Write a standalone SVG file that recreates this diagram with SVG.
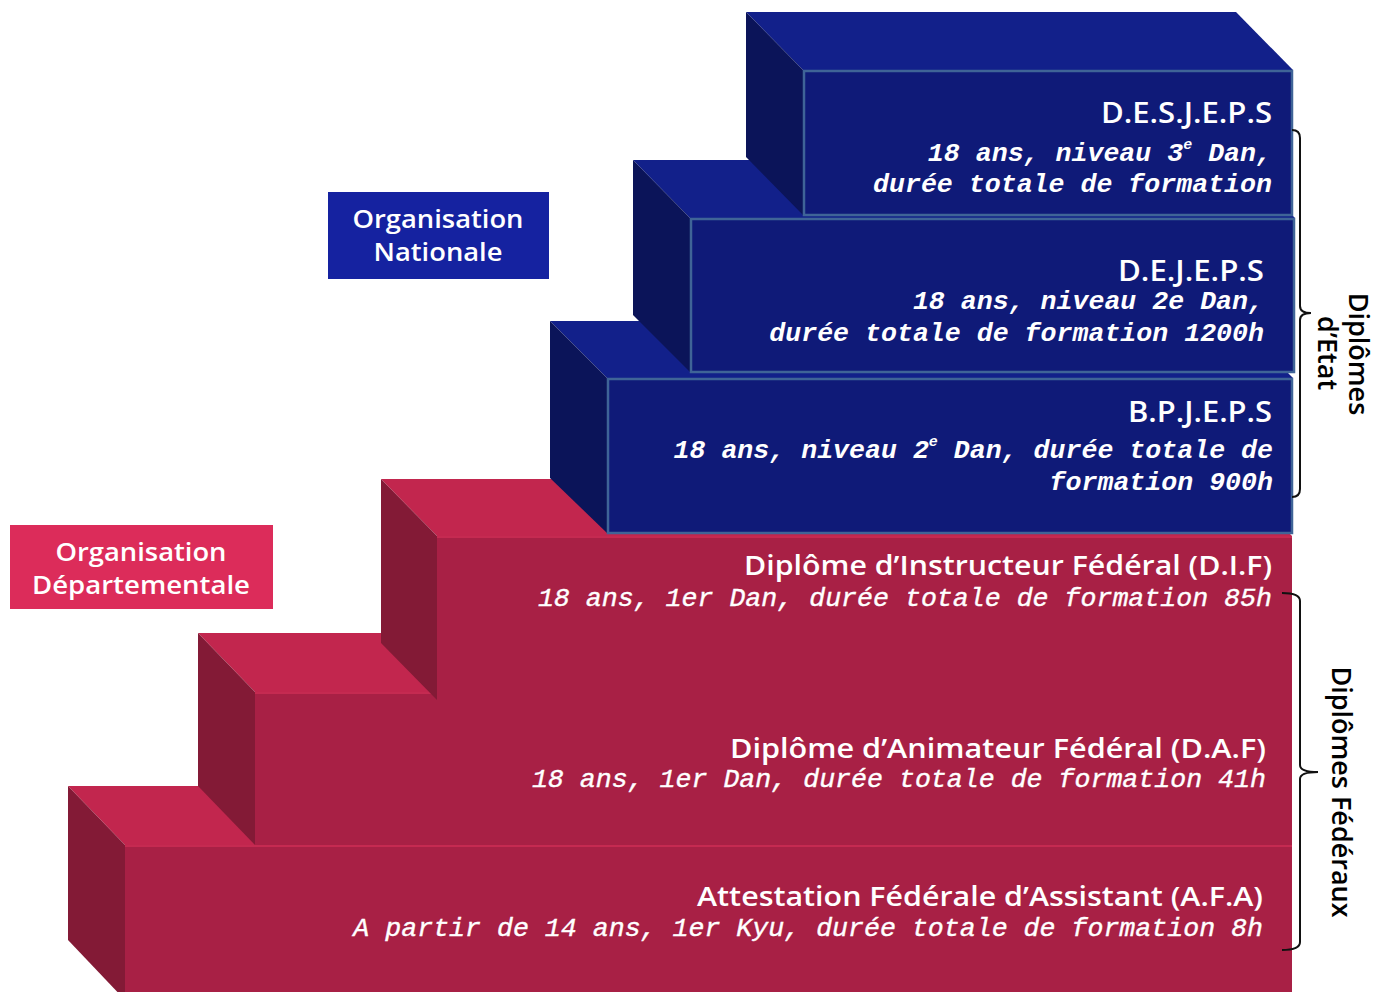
<svg xmlns="http://www.w3.org/2000/svg" width="1387" height="992" viewBox="0 0 1387 992">
<style>
.rt{fill:#C2264E}.rf{fill:#A82045}.rl{fill:#831A36}
.bt{fill:#12208A}.bf{fill:#0F1A78;stroke:#3F6497;stroke-width:2.5}.bl{fill:#0B1459}
.rline{stroke:#C52A51;stroke-width:2;fill:none}
.h{font-family:"Open Sans","Liberation Sans",sans-serif;fill:#fff;text-anchor:end;font-weight:600}
.hr{font-family:"Open Sans","Liberation Sans",sans-serif;fill:#fff;text-anchor:end;font-size:27px;font-weight:600}
.mb{font-family:"Liberation Mono","Courier New",monospace;font-style:italic;font-weight:bold;font-size:26.6px;fill:#fff;text-anchor:end}
.mr{font-family:"Liberation Mono","Courier New",monospace;font-style:italic;font-size:26.6px;fill:#fff;text-anchor:end;stroke:#fff;stroke-width:0.4}
.lab{font-family:"Open Sans","Liberation Sans",sans-serif;font-weight:600;font-size:26px;fill:#fff;text-anchor:middle}
.side{font-family:"Open Sans","Liberation Sans",sans-serif;font-size:27px;font-weight:600;fill:#000;text-anchor:middle}
.brace{fill:none;stroke:#111;stroke-width:2}
</style>
<rect width="1387" height="992" fill="#fff"/>

<g id="afa">
<polygon class="rt" points="68,786 1235,786 1292,845 125,845"/>
<polygon class="rl" points="68,786 125,845 125,1000 68,940"/>
<rect class="rf" x="125" y="845" width="1167" height="155"/>
<line class="rline" x1="125" y1="846" x2="1292" y2="846"/>
<text class="hr" x="1263" y="906" textLength="566" lengthAdjust="spacingAndGlyphs">Attestation Fédérale d’Assistant (A.F.A)</text>
<text class="mr" x="1263" y="936">A partir de 14 ans, 1er Kyu, durée totale de formation 8h</text>
</g>

<g id="daf">
<polygon class="rt" points="198,633 1235,633 1292,692 255,692"/>
<polygon class="rl" points="198,633 255,692 255,845 198,786"/>
<rect class="rf" x="255" y="692" width="1037" height="153"/>
<line class="rline" x1="255" y1="693" x2="1292" y2="693"/>
<text class="hr" x="1266" y="758" textLength="536" lengthAdjust="spacingAndGlyphs">Diplôme d’Animateur Fédéral (D.A.F)</text>
<text class="mr" x="1266" y="787">18 ans, 1er Dan, durée totale de formation 41h</text>
</g>

<g id="dif">
<polygon class="rt" points="381,479 1235,479 1292,536 437,536"/>
<polygon class="rl" points="381,479 437,536 437,700 381,643"/>
<rect class="rf" x="437" y="536" width="855" height="164"/>
<line class="rline" x1="437" y1="537" x2="1292" y2="537"/>
<text class="hr" x="1272" y="575" textLength="528" lengthAdjust="spacingAndGlyphs">Diplôme d’Instructeur Fédéral (D.I.F)</text>
<text class="mr" x="1272" y="606">18 ans, 1er Dan, durée totale de formation 85h</text>
</g>

<g id="bpjeps">
<polygon class="bt" points="550,321 1236,321 1293,378 607,378"/>
<polygon class="bl" points="550,321 607,378 607,533 550,478"/>
<rect class="bf" x="608" y="379" width="684" height="154"/>
<text class="h" x="1272" y="422" font-size="28" textLength="144" lengthAdjust="spacingAndGlyphs">B.P.J.E.P.S</text>
<text class="mb" x="1273" y="458">18 ans, niveau 2<tspan font-size="15" dy="-12">e</tspan><tspan dy="12"> Dan, durée totale de</tspan></text>
<text class="mb" x="1273" y="490">formation 900h</text>
</g>

<g id="dejeps">
<polygon class="bt" points="633,160 1238,160 1295,218 690,218"/>
<polygon class="bl" points="633,160 690,218 690,372 633,315"/>
<rect class="bf" x="691" y="219" width="603" height="153"/>
<text class="h" x="1264" y="281" font-size="28" textLength="146" lengthAdjust="spacingAndGlyphs">D.E.J.E.P.S</text>
<text class="mb" x="1264" y="309">18 ans, niveau 2e Dan,</text>
<text class="mb" x="1264" y="341">durée totale de formation 1200h</text>
</g>

<g id="desjeps">
<polygon class="bt" points="746,12 1236,12 1293,70 803,70"/>
<polygon class="bl" points="746,12 803,70 803,215 746,157"/>
<rect class="bf" x="804" y="71" width="488" height="144"/>
<text class="h" x="1272" y="123" font-size="28" textLength="171" lengthAdjust="spacingAndGlyphs">D.E.S.J.E.P.S</text>
<text class="mb" x="1272" y="161">18 ans, niveau 3<tspan font-size="15" dy="-12">e</tspan><tspan dy="12"> Dan,</tspan></text>
<text class="mb" x="1272" y="192">durée totale de formation</text>
</g>

<g id="org-nationale">
<rect x="328" y="192" width="221" height="87" fill="#1522A0"/>
<text class="lab" x="438" y="228" textLength="171" lengthAdjust="spacingAndGlyphs">Organisation</text>
<text class="lab" x="438" y="261" textLength="129" lengthAdjust="spacingAndGlyphs">Nationale</text>
</g>

<g id="org-departementale">
<rect x="10" y="525" width="263" height="84" fill="#DC2C5A"/>
<text class="lab" x="141" y="561" textLength="171" lengthAdjust="spacingAndGlyphs">Organisation</text>
<text class="lab" x="141" y="594" textLength="218" lengthAdjust="spacingAndGlyphs">Départementale</text>
</g>

<g id="connectors">
<path class="brace" d="M1292,130 Q1300,130 1300,138 L1300,306 Q1300,313 1311,313 Q1300,313 1300,320 L1300,489 Q1300,497 1292,497"/>
<path class="brace" d="M1282,593 Q1300,593 1300,601 L1300,765 Q1300,772 1318,772 Q1300,772 1300,779 L1300,942 Q1300,950 1282,950"/>
</g>

<g id="label-etat">
<text class="side" transform="translate(1349,354) rotate(90)">Diplômes</text>
<text class="side" transform="translate(1318,353) rotate(90)">d’Etat</text>
</g>

<g id="label-federaux">
<text class="side" transform="translate(1332,792) rotate(90)">Diplômes Fédéraux</text>
</g>
</svg>
